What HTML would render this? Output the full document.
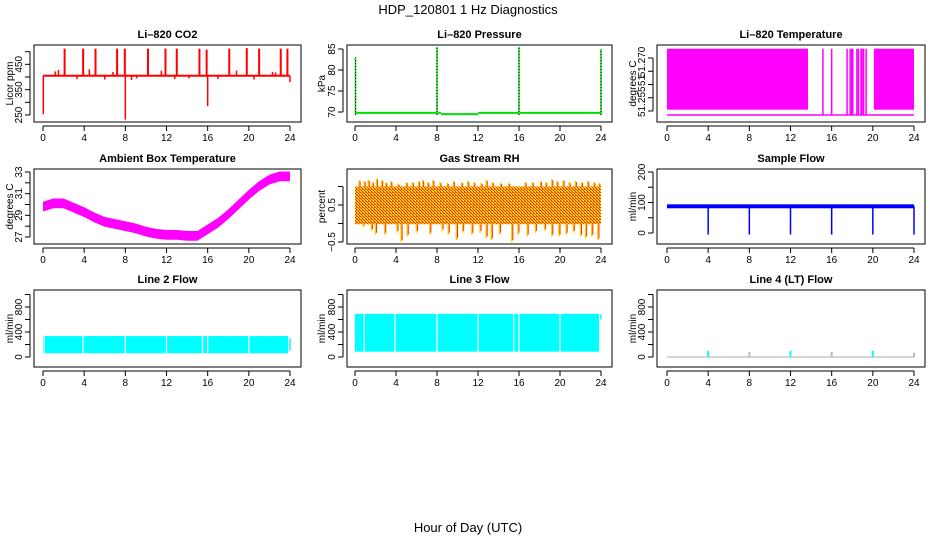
<!DOCTYPE html>
<html><head><meta charset="utf-8">
<style>
html,body{margin:0;padding:0;background:#fff;}
svg{display:block;font-family:"Liberation Sans",sans-serif;}
</style></head>
<body>
<svg id="chart" width="936" height="540" xmlns="http://www.w3.org/2000/svg">
<defs>
<pattern id="rhpat" width="3" height="3" patternUnits="userSpaceOnUse">
<rect width="3" height="3" fill="#ffdd00"/>
<rect x="0" y="0" width="1" height="1" fill="#ff2000"/>
<rect x="1" y="1" width="1" height="1" fill="#ff2000"/>
<rect x="2" y="2" width="1" height="1" fill="#ff2000"/>
<rect x="2" y="0" width="1" height="1" fill="#ff6000"/>
</pattern>
</defs>
<text x="468" y="14" text-anchor="middle" font-size="13">HDP_120801 1 Hz Diagnostics</text>
<text x="468" y="532" text-anchor="middle" font-size="13">Hour of Day (UTC)</text>
</svg>
<script>
// ---- data ----
const hourTicks = [0,4,8,12,16,20,24];
// CO2
const co2Base = 405;
const co2UpHours = [2.1,3.9,5.1,7.2,7.95,10.2,11.9,13.0,15.2,15.9,18.1,19.8,21.0,23.1,23.75];
const co2UpVals = [512,512,512,512,512,512,512,512,512,508,512,514,512,512,512];
const co2SmallHours = [1.2,1.5,3.3,4.5,6.0,6.8,8.6,9.1,11.5,12.8,14.2,17.0,18.8,20.5,22.3,22.6];
const co2SmallVals = [422,428,392,430,390,420,388,395,425,392,395,392,425,390,420,418];
const co2DownHours = [0.03,8.0,16.0,24.0];
const co2DownVals = [253,232,285,380];
// Pressure
const presBase = [69.8,69.8,69.5,69.8,69.8];
const presSegStart = [0.1,8.1,8.4,12.0,16.1];
const presSegEnd = [8.0,8.4,12.0,16.0,24.0];
const presSpikeHours = [0.05,8.0,16.0,24.0];
const presSpikeVals = [83,85.5,85.5,85];
// Li-820 temperature
const ltFillStart = [0,20.1];
const ltFillEnd = [13.7,24];
const ltBarHours = [15.15,16.0,17.5,17.8,17.95,18.05,18.45,18.6,18.85,18.95,19.1,19.35];
const ltHigh = 51.2735, ltLow = 51.2505, ltMid = 51.2485;
// Ambient box temperature
const ambHours = [0,1,2,3,4,5,6,7,8,9,10,11,12,13,14,15,16,17,18,19,20,21,22,23,24];
const ambVals = [29.8,30.1,30.1,29.7,29.3,28.8,28.4,28.2,28.0,27.8,27.5,27.3,27.2,27.2,27.1,27.1,27.7,28.3,29.1,30.0,30.9,31.7,32.3,32.6,32.6];
// Gas stream RH
const rhCoreTop = 1.0, rhCoreBot = -0.02;
const rhUpHours = [0.4,0.9,1.3,1.7,2.1,2.6,3.0,3.5,4.2,5.0,5.6,6.2,6.6,7.1,7.6,8.3,9.0,9.6,10.4,11.0,11.6,12.3,12.8,13.4,14.2,15.0,16.6,17.3,18.1,18.6,19.2,19.7,20.3,20.9,21.5,22.1,22.7,23.3,23.8];
const rhUpVals = [1.17,1.15,1.18,1.12,1.22,1.18,1.12,1.15,1.08,1.12,1.12,1.15,1.18,1.12,1.18,1.12,1.1,1.15,1.12,1.15,1.12,1.1,1.18,1.12,1.1,1.1,1.12,1.12,1.15,1.12,1.2,1.15,1.18,1.12,1.15,1.12,1.15,1.12,1.1];
const rhDownHours = [0.8,1.6,2.0,2.9,4.1,4.5,5.1,6.0,7.3,8.5,9.1,9.9,10.5,11.4,12.2,12.8,13.3,14.1,15.3,15.9,16.8,17.6,18.5,19.2,19.9,20.6,21.3,22.0,22.5,23.1,23.7];
const rhDownVals = [-0.1,-0.2,-0.3,-0.3,-0.25,-0.5,-0.35,-0.25,-0.3,-0.2,-0.3,-0.45,-0.25,-0.3,-0.25,-0.4,-0.45,-0.3,-0.5,-0.3,-0.35,-0.25,-0.2,-0.35,-0.35,-0.3,-0.25,-0.35,-0.4,-0.35,-0.45];
// Sample flow
const sfBase = 88, sfBandHi = 94, sfBandLo = 81;
const sfDipHours = [4,8,12,16,20,24];
const sfDipVals = [-5,-5,-5,-5,-5,-5];
// Line 2/3/4 flows
const l2Top = 335, l2Bot = 60, l2End = 23.8;
const l2GapHours = [0.1,3.9,8.0,12.0,15.5,16.0,20.0];
const l3Top = 690, l3Bot = 85, l3End = 23.8;
const l3GapHours = [0.9,3.9,8.0,12.0,15.5,16.0,20.0];
const l4Hours = [4,8,12,16,20,24];
const l4Vals = [100,80,100,80,100,70];

// ---- layout ----
const svg = document.getElementById('chart');
const NS = 'http://www.w3.org/2000/svg';
const cols = [{bx0:34,bx1:301,h0:43,h24:290,lab:10},{bx0:347,bx1:612,h0:355,h24:601,lab:322},{bx0:657,bx1:925,h0:667,h24:914,lab:633}];
const rows = [{by0:45,by1:122},{by0:169,by1:244},{by0:290,by1:367}];
function mk(tag, attrs, parent){const e=document.createElementNS(NS,tag);for(const k in attrs)e.setAttribute(k,attrs[k]);(parent||svg).appendChild(e);return e;}

function panel(ci, ri, name, title, ylab, v1, p1, v2, p2, yticks, ylabels){
  const c=cols[ci], r=rows[ri];
  const g=mk('g',{});
  
  
  const xs=h=>c.h0+(c.h24-c.h0)*h/24;
  const ys=v=>p1+(v-v1)*(p2-p1)/(v2-v1);
  const t=mk('text',{x:(c.bx0+c.bx1)/2,y:r.by0-7,'text-anchor':'middle','font-size':'11','font-weight':'bold'},g);
  
  
  t.textContent=title;
  const yl=mk('text',{x:0,y:0,'text-anchor':'middle','font-size':'10',transform:`translate(${c.lab+3},${(r.by0+r.by1)/2}) rotate(-90)`},g);
  
  
  yl.textContent=ylab;
  const plot=mk('g',{},g);
  
  
  const box=mk('rect',{x:c.bx0,y:r.by0,width:c.bx1-c.bx0,height:r.by1-r.by0,fill:'none',stroke:'#000','stroke-width':1},g);
  
  
  const xa=mk('g',{},g);
  
  
  mk('line',{x1:xs(0),x2:xs(24),y1:r.by1+4,y2:r.by1+4,stroke:'#000'},xa);
  hourTicks.forEach(h=>{
    mk('line',{x1:xs(h),x2:xs(h),y1:r.by1+4,y2:r.by1+9,stroke:'#000'},xa);
    const tl=mk('text',{x:xs(h),y:r.by1+19,'text-anchor':'middle','font-size':'10'},xa);
    
    
    tl.textContent=h;
  });
  const ya=mk('g',{},g);
  
  
  const ax=c.bx0-4;
  mk('line',{x1:ax,x2:ax,y1:ys(yticks[0]),y2:ys(yticks[yticks.length-1]),stroke:'#000'},ya);
  yticks.forEach(v=>mk('line',{x1:ax,x2:ax-5,y1:ys(v),y2:ys(v),stroke:'#000'},ya));
  ylabels.forEach(([v,s])=>{
    const tl=mk('text',{x:0,y:0,'text-anchor':'middle','font-size':'10',transform:`translate(${ax-8},${ys(v)}) rotate(-90)`},ya);
    
    
    tl.textContent=s;
  });
  return {plot,xs,ys};
}
function vbar(p,h,a,b,col,w){mk('line',{x1:p.xs(h),x2:p.xs(h),y1:p.ys(a),y2:p.ys(b),stroke:col,'stroke-width':w||1.5},p.plot);}
function rectv(p,h1,h2,a,b,fill){const x1=p.xs(h1),x2=p.xs(h2),y1=p.ys(a),y2=p.ys(b);const e=mk('rect',{x:Math.min(x1,x2),y:Math.min(y1,y2),width:Math.abs(x2-x1),height:Math.abs(y2-y1),fill:fill},p.plot);return e;}

// CO2
let p=panel(0,0,'co2-panel','Li\u2013820 CO2','Licor ppm',400,77,250,115,[250,300,350,400,450,500],[[250,'250'],[350,'350'],[450,'450']]);
rectv(p,0,24,co2Base-4,co2Base+4,'#ff0000');
co2UpHours.forEach((h,i)=>vbar(p,h,co2Base,co2UpVals[i],'#ff0000',2));
co2SmallHours.forEach((h,i)=>vbar(p,h,co2Base,co2SmallVals[i],'#ff0000',1.5));
co2DownHours.forEach((h,i)=>vbar(p,h,co2Base,co2DownVals[i],'#ff0000',1.5));
// Pressure
p=panel(1,0,'pressure-panel','Li\u2013820 Pressure','kPa',85,49,70,112,[70,75,80,85],[[70,'70'],[75,'75'],[80,'80'],[85,'85']]);
presSegStart.forEach((s,i)=>mk('line',{x1:p.xs(s),x2:p.xs(presSegEnd[i]),y1:p.ys(presBase[i]),y2:p.ys(presBase[i]),stroke:'#00dd00','stroke-width':2},p.plot));
presSpikeHours.forEach((h,i)=>{vbar(p,h,69.3,presSpikeVals[i],'#00dd00',1.5);mk('line',{x1:p.xs(h),x2:p.xs(h),y1:p.ys(69.3),y2:p.ys(presSpikeVals[i]),stroke:'#000','stroke-width':1,'stroke-dasharray':'1,2'},p.plot);});
// Li temp
p=panel(2,0,'li820-temperature-panel','Li\u2013820 Temperature','degrees C',51.270,58,51.250,111,[51.250,51.255,51.260,51.265,51.270],[[51.2685,'51.270'],[51.2615,'51'],[51.2535,'51.255']]);
mk('line',{x1:p.xs(0),x2:p.xs(24),y1:p.ys(ltMid),y2:p.ys(ltMid),stroke:'#ff00ff','stroke-width':1.5},p.plot);
ltFillStart.forEach((s,i)=>rectv(p,s,ltFillEnd[i],ltLow,ltHigh,'#ff00ff'));
ltBarHours.forEach(h=>vbar(p,h,ltMid,ltHigh,'#ff00ff',1.5));
// Ambient
p=panel(0,1,'ambient-temperature-panel','Ambient Box Temperature','degrees C',33,172,27,237,[27,28,29,30,31,32,33],[[27,'27'],[29,'29'],[31,'31'],[33,'33']]);
{let up=ambHours.map((h,i)=>p.xs(h)+','+p.ys(ambVals[i]+0.45));let dn=ambHours.map((h,i)=>p.xs(h)+','+p.ys(ambVals[i]-0.45)).reverse();
mk('polygon',{points:up.concat(dn).join(' '),fill:'#ff00ff'},p.plot);}
// RH
p=panel(1,1,'gas-stream-rh-panel','Gas Stream RH','percent',0.5,205,-0.5,242,[-0.5,0,0.5,1.0],[[-0.5,'\u22120.5'],[0.5,'0.5']]);
rhUpHours.forEach((h,i)=>{vbar(p,h,rhCoreTop,rhUpVals[i],'#ffcc00',1.5);vbar(p,h+0.1,rhCoreTop,rhUpVals[i]-0.03,'#ff3000',1);});
rhDownHours.forEach((h,i)=>{vbar(p,h,rhCoreBot,rhDownVals[i],'#ffcc00',1.5);vbar(p,h+0.1,rhCoreBot,rhDownVals[i]+0.05,'#ff3000',1);});
rectv(p,0,24,rhCoreBot,rhCoreTop,'url(#rhpat)');
// Sample flow
p=panel(2,1,'sample-flow-panel','Sample Flow','ml/min',200,172,0,233,[0,50,100,150,200],[[0,'0'],[100,'100'],[200,'200']]);
rectv(p,0,24,sfBandLo,sfBandHi,'#0000ff');
sfDipHours.forEach((h,i)=>vbar(p,h,sfBase,sfDipVals[i],'#0000ff',1.5));
// Line 2
p=panel(0,2,'line2-flow-panel','Line 2 Flow','ml/min',0,357,800,307,[0,200,400,600,800,1000],[[0,'0'],[400,'400'],[800,'800']]);
rectv(p,0,l2End,l2Bot,l2Top,'#00ffff');
l2GapHours.forEach(h=>vbar(p,h,l2Bot,l2Top,'#fff',1.2));
vbar(p,24,l2Bot+40,300,'#00ffff',1.5);
// Line 3
p=panel(1,2,'line3-flow-panel','Line 3 Flow','ml/min',0,357,800,307,[0,200,400,600,800,1000],[[0,'0'],[400,'400'],[800,'800']]);
rectv(p,0,l3End,l3Bot,l3Top,'#00ffff');
l3GapHours.forEach(h=>vbar(p,h,l3Bot,l3Top,'#fff',1.2));
vbar(p,24,600,680,'#00ffff',1.5);
// Line 4
p=panel(2,2,'line4-flow-panel','Line 4 (LT) Flow','ml/min',0,357,800,307,[0,200,400,600,800,1000],[[0,'0'],[400,'400'],[800,'800']]);
mk('line',{x1:p.xs(0),x2:p.xs(24),y1:p.ys(0),y2:p.ys(0),stroke:'#aaaaaa','stroke-width':1},p.plot);
l4Hours.forEach((h,i)=>vbar(p,h,0,l4Vals[i],i%2===0?'#00ffff':'#bbbbbb',2));
</script>
</body></html>
